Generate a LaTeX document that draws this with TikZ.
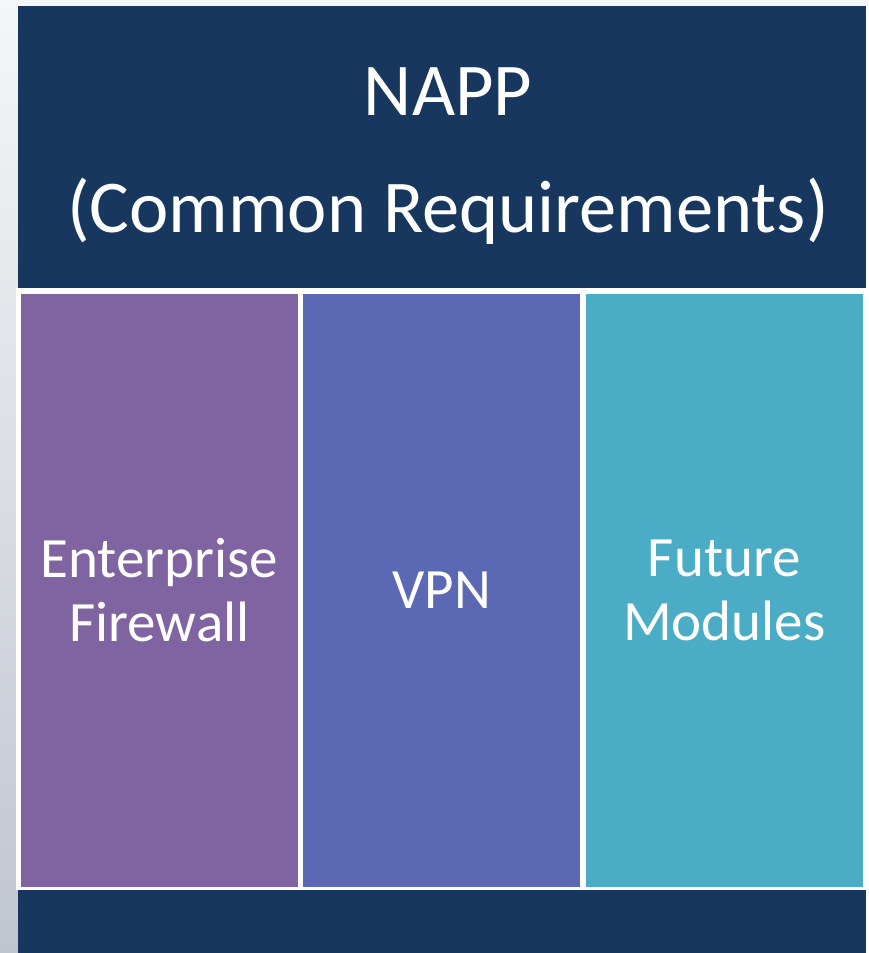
\documentclass[tikz,border=0pt]{standalone}
\usepackage{fontspec}
\setmainfont{Carlito}
\usetikzlibrary{positioning}

\definecolor{nappnavy}{HTML}{18375E}
\definecolor{fwpurple}{HTML}{8064A2}
\definecolor{vpnblue}{HTML}{5B68B3}
\definecolor{modteal}{HTML}{4BACC6}
\definecolor{sidegrey}{HTML}{C0C5CF}
\definecolor{sidelight}{HTML}{F5F6F8}

\tikzset{
  band/.style={fill=nappnavy, draw=none, inner sep=0pt, minimum width=848pt},
  module/.style={draw=none, inner sep=0pt, minimum width=277pt, minimum height=593pt,
    text=white, align=center, font=\fontsize{57}{64}\selectfont},
  title/.style={text=white, align=center, inner sep=0pt, font=\fontsize{74.5}{117}\selectfont}
}

\begin{document}
\begin{tikzpicture}[x=1pt, y=-1pt]
  \useasboundingbox (0,0) rectangle (868,953);

  % slide background
  \fill[sidelight] (0,0) rectangle (868,6);
  \shade[top color=sidelight, bottom color=sidegrey] (0,0) rectangle (18,953);
  \fill[white] (16,288) rectangle (868,890);

  % common part
  \node[band, minimum height=282pt] (napp) at (442,147) {};
  \node[title] (napptext) at (448,156) {NAPP\\ (Common Requirements)};
  \node[band, minimum height=63pt] (base) at (442,921.5) {};

  % modules
  \node[module, fill=fwpurple] (fw) at (159.5,590.5) {Enterprise\\Firewall};
  \node[module, fill=vpnblue, right=5pt of fw] (vpn) {VPN};
  \node[module, fill=modteal, right=5pt of vpn] (future) {Future\\Modules};
\end{tikzpicture}
\end{document}
